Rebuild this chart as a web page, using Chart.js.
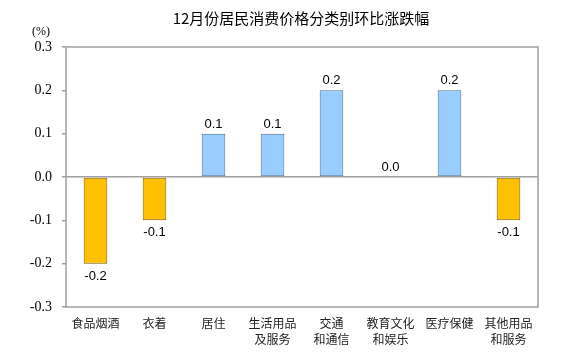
<!DOCTYPE html>
<html><head><meta charset="utf-8">
<script src="https://cdn.jsdelivr.net/npm/chart.js@4"></script>
<style>html,body{margin:0;padding:0;background:#fff}#wrap{width:565px;height:355px;position:relative}</style>
</head><body><div id="wrap"><canvas id="c"></canvas></div>
<script>
const titleText = "12月份居民消费价格分类别环比涨跌幅";
const unitText = "(%)";
const categories = [["食品烟酒"],["衣着"],["居住"],["生活用品","及服务"],["交通","和通信"],["教育文化","和娱乐"],["医疗保健"],["其他用品","和服务"]];
const values = [-0.2, -0.1, 0.1, 0.1, 0.2, 0.0, 0.2, -0.1];
const yTicks = [-0.3, -0.2, -0.1, 0.0, 0.1, 0.2, 0.3];

const posColor = "#99CCFF", negColor = "#FFC000";
const posBorder = "#4F6F8F", negBorder = "#7F6000";

const decor = {
  id: "decor",
  afterDraw(chart) {
    const ctx = chart.ctx, a = chart.chartArea;
    ctx.save();
    ctx.strokeStyle = "#A0A0A0"; ctx.lineWidth = 1.5;
    ctx.strokeRect(a.left, a.top, a.right - a.left, a.bottom - a.top);
    ctx.fillStyle = "#000";
    ctx.font = "15px 'Noto Sans CJK SC'";
    ctx.textAlign = "center"; ctx.textBaseline = "middle";
    ctx.fillText(titleText, 301, 18);
    ctx.font = "12px 'Liberation Serif'";
    ctx.fillText(unitText, 41, 32);
    const meta = chart.getDatasetMeta(0);
    ctx.font = "13px 'Liberation Sans'";
    const y0 = chart.scales.y.getPixelForValue(0);
    meta.data.forEach((bar, i) => {
      const v = values[i];
      const txt = v.toFixed(1);
      if (v < 0) { ctx.textBaseline = "top"; ctx.fillText(txt, bar.x, bar.y + 6); }
      else { ctx.textBaseline = "bottom"; ctx.fillText(txt, bar.x, (v === 0 ? y0 : bar.y) - 3); }
    });
    ctx.restore();
  }
};

new Chart(document.getElementById("c"), {
  type: "bar",
  data: { labels: categories, datasets: [{
    data: values,
    backgroundColor: values.map(v => v < 0 ? negColor : posColor),
    borderColor: values.map(v => v < 0 ? negBorder : posBorder),
    borderWidth: 1, borderSkipped: false,
    barPercentage: 0.8, categoryPercentage: 0.5
  }]},
  options: {
    responsive: true, maintainAspectRatio: false, animation: false,
    layout: { padding: { top: 47, right: 27, left: 0, bottom: 0 } },
    plugins: { legend: { display: false }, tooltip: { enabled: false }, title: { display: false } },
    scales: {
      x: {
        grid: { display: false, drawTicks: false },
        border: { display: false },
        ticks: { color: "#222", font: { family: "'Noto Sans CJK SC'", size: 12, lineHeight: 1.3 }, padding: 9, maxRotation: 0, autoSkip: false },
        afterFit(s) { s.height = 48; }
      },
      y: {
        min: -0.3, max: 0.3,
        afterBuildTicks(s) { s.ticks = yTicks.map(v => ({ value: v })); },
        grid: {
          color: ctx => (ctx.tick && Math.abs(ctx.tick.value) < 1e-9) ? "#A0A0A0" : "rgba(0,0,0,0)",
          tickColor: "#A0A0A0", tickLength: 4, lineWidth: 1.5
        },
        border: { display: false },
        ticks: { color: "#000", font: { family: "'Liberation Serif'", size: 14 }, padding: 10, callback: v => Number(v).toFixed(1) },
        afterFit(s) { s.width = 66; }
      }
    }
  },
  plugins: [decor]
});
</script></body></html>
